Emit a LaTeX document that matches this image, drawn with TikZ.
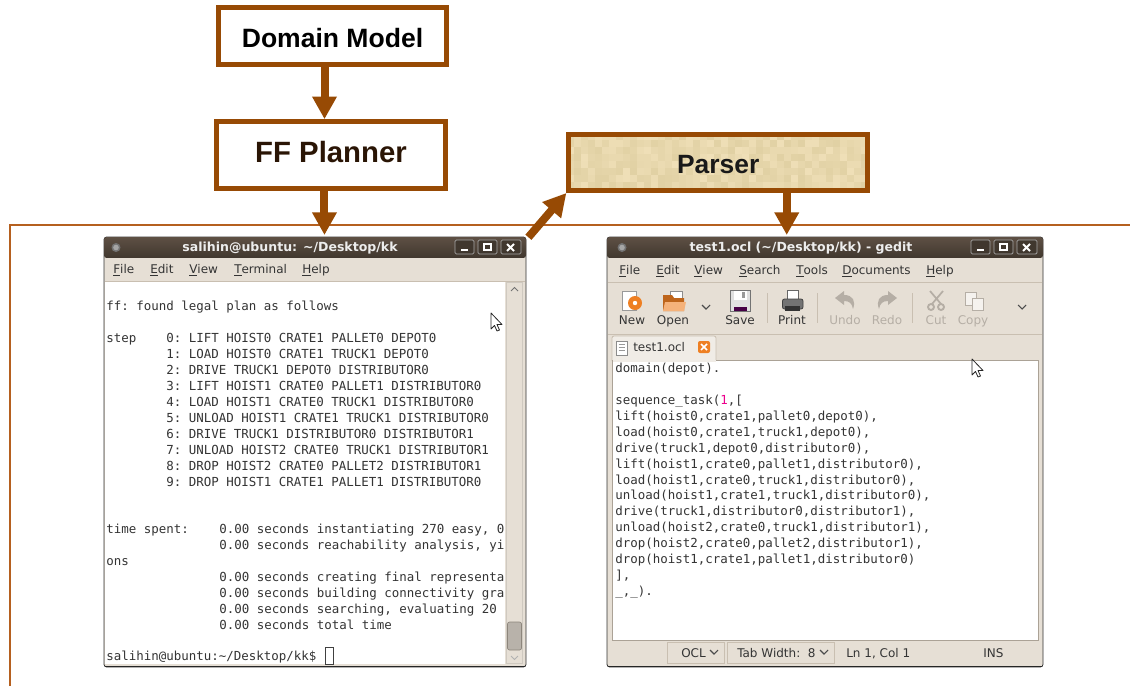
\documentclass[tikz,border=0pt]{standalone}
\usepackage{fontspec}
\setmainfont{Liberation Sans}
\newfontfamily\uifont{DejaVu Sans}
\newfontfamily\monof{DejaVu Sans Mono}
\usetikzlibrary{arrows.meta}
\definecolor{boxbrown}{HTML}{974A04}
\definecolor{framebrown}{HTML}{B5601F}
\definecolor{winface}{HTML}{E6DFD5}
\definecolor{winedge}{HTML}{C9BFB1}
\definecolor{titletop}{HTML}{5E5044}
\definecolor{titlebot}{HTML}{40372E}
\definecolor{txt}{HTML}{343434}
\definecolor{dis}{HTML}{B5AEA5}
\definecolor{orangeicon}{HTML}{EE7F22}
\tikzset{
  flowbox/.style={draw=boxbrown,line width=3.75pt,inner sep=0pt,font=\bfseries},
  flow/.style={draw=boxbrown,line width=6pt,-{Triangle[length=17pt,width=17.5pt]}},
  win/.style={draw=black!80,line width=.6pt,fill=winface,rounded corners=2pt,inner sep=0pt},
  titletxt/.style={text=white!93!black,font=\uifont\bfseries\fontsize{9.4}{11}\selectfont,inner sep=0pt,anchor=base},
  menu/.style={text=txt,font=\uifont\fontsize{9}{11}\selectfont,inner sep=0pt,anchor=base west},
  tool/.style={text=txt,font=\uifont\fontsize{9}{11}\selectfont,inner sep=0pt,anchor=base},
  tooldis/.style={tool,text=dis},
  mono/.style={text=txt,font=\monof\fontsize{9.344}{11}\selectfont\frenchspacing,inner sep=0pt,anchor=base west},
  wbtn/.style={draw=white!65!black,line width=.6pt,rounded corners=1pt,fill=titlebot},
  sep/.style={draw=winedge,line width=.75pt},
  cursorshape/.style={draw=black!85,fill=white,line width=.6pt,line join=round}
}
\newcommand{\ul}[1]{\underline{#1}}
\newcommand{\winbtns}[1]{%
  \draw[wbtn] (#1-21,240) rectangle (#1-2,254);
  \draw[wbtn] (#1+2,240) rectangle (#1+21,254);
  \draw[wbtn] (#1+25,240) rectangle (#1+45,254);
  \draw[white,line width=1.2pt] (#1-15,250) -- (#1-8,250);
  \draw[white,line width=.9pt] (#1+8,244) rectangle (#1+15,250);
  \draw[white,line width=1.4pt] (#1+31,244) -- (#1+38,251) (#1+38,244) -- (#1+31,251);
}
\newcommand{\chev}[3]{\draw[#3,line width=.8pt] (#1-4,#2-2) -- (#1,#2+2) -- (#1+4,#2-2);}
\newcommand{\mousecursor}[2]{\draw[cursorshape,shift={(#1,#2)}] (0,0) -- (0,16) -- (3.5,12.5) -- (6,18) -- (8.5,17) -- (6,11.5) -- (11,11.5) -- cycle;}
\begin{document}
\begin{tikzpicture}[x=0.75pt,y=-0.75pt]
\useasboundingbox (0,0) rectangle (1130,686);
\fill[white] (0,0) rectangle (1130,686);

% frame line
\draw[framebrown,line width=2.1pt] (10,686) -- (10,225) -- (1130,225);

% parser texture
\pgfmathsetseed{11}
\begin{scope}
\clip (567,133) rectangle (869,192);
\foreach \i in {0,...,42}{
  \foreach \j in {0,...,8}{
    \pgfmathsetmacro{\dv}{random(0,14)-7}
    \pgfmathtruncatemacro{\rr}{232+\dv}
    \pgfmathtruncatemacro{\gg}{216+\dv}
    \pgfmathtruncatemacro{\bb}{174+1.4*\dv}
    \fill[fill={rgb,255:red,\rr;green,\gg;blue,\bb}] (567+\i*7,133+\j*7) rectangle (567+\i*7+7.2,133+\j*7+7.2);
  }
}
\end{scope}

% boxes
\node[flowbox,fill=white,minimum width=171pt,minimum height=42.5pt,font=\bfseries\fontsize{19.9}{22}\selectfont,text height=19pt,text depth=1pt] (dm) at (332.5,35.8) {Domain Model};
\node[flowbox,fill=white,minimum width=171.75pt,minimum height=50pt,font=\bfseries\fontsize{22}{24}\selectfont,text={rgb,255:red,42;green,21;blue,5},text height=14.5pt,text depth=3.5pt] (ff) at (331,155) {FF Planner};
\node[flowbox,minimum width=224pt,minimum height=42pt,font=\bfseries\fontsize{19.8}{22}\selectfont,text=black!90,text height=17.5pt,text depth=.5pt] (parser) at (718.2,162.5) {Parser};

% ---------- terminal window
\node[win,minimum width=316.5pt,minimum height=322.5pt] (term) at (315,452) {};
\draw[black!85,line width=1pt] (105,666.5) -- (525,666.5);
\shade[top color=titletop,bottom color=titlebot,rounded corners=2pt] (104,237) rectangle (526,258);
\fill[winface] (105,258) rectangle (525,281);
\draw[winedge,line width=.5pt] (105,281) -- (525,281);
\fill[white] (105,281.5) rectangle (505,664);
\fill[winface!90!black] (506,282) rectangle (523,664);
\fill[winface] (507,283) rectangle (522,663);
\draw[fill=winface!80!black,draw=winedge!70!black,line width=.5pt,rounded corners=1.5pt] (507.5,622) rectangle (521.5,650);
\draw[black!55,line width=.7pt] (511,291) -- (514.5,287.5) -- (518,291);
\draw[black!30,line width=.7pt] (511,656) -- (514.5,659.5) -- (518,656);
\fill[black!55] (116,247.5) circle (4.5);
\fill[black!35] (116,247.5) circle (2.8);
\winbtns{476}
\node[titletxt] (ttitle) at (290,251) {salihin@ubuntu: \textasciitilde/Desktop/kk};
\node[menu] (tm1) at (113,273) {\ul{F}ile};
\node[menu] (tm2) at (150,273) {\ul{E}dit};
\node[menu] (tm3) at (189,273) {\ul{V}iew};
\node[menu] (tm4) at (234,273) {\ul{T}erminal};
\node[menu] (tm5) at (302,273) {\ul{H}elp};

\node[mono] (t01) at (106,310) {ff: found legal plan as follows};
\node[mono] (t02) at (106,342) {step};
\node[mono] (t03) at (166,342) {0: LIFT HOIST0 CRATE1 PALLET0 DEPOT0};
\node[mono] (t04) at (166,358) {1: LOAD HOIST0 CRATE1 TRUCK1 DEPOT0};
\node[mono] (t05) at (166,374) {2: DRIVE TRUCK1 DEPOT0 DISTRIBUTOR0};
\node[mono] (t06) at (166,390) {3: LIFT HOIST1 CRATE0 PALLET1 DISTRIBUTOR0};
\node[mono] (t07) at (166,406) {4: LOAD HOIST1 CRATE0 TRUCK1 DISTRIBUTOR0};
\node[mono] (t08) at (166,422) {5: UNLOAD HOIST1 CRATE1 TRUCK1 DISTRIBUTOR0};
\node[mono] (t09) at (166,438) {6: DRIVE TRUCK1 DISTRIBUTOR0 DISTRIBUTOR1};
\node[mono] (t10) at (166,454) {7: UNLOAD HOIST2 CRATE0 TRUCK1 DISTRIBUTOR1};
\node[mono] (t11) at (166,470) {8: DROP HOIST2 CRATE0 PALLET2 DISTRIBUTOR1};
\node[mono] (t12) at (166,486) {9: DROP HOIST1 CRATE1 PALLET1 DISTRIBUTOR0};
\node[mono] (t13) at (106,533) {time spent:};
\node[mono] (t14) at (219,533) {0.00 seconds instantiating 270 easy, 0};
\node[mono] (t15) at (219,549) {0.00 seconds reachability analysis, yi};
\node[mono] (t16) at (106,565) {ons};
\node[mono] (t17) at (219,581) {0.00 seconds creating final representa};
\node[mono] (t18) at (219,597) {0.00 seconds building connectivity gra};
\node[mono] (t19) at (219,613) {0.00 seconds searching, evaluating 20};
\node[mono] (t20) at (219,629) {0.00 seconds total time};
\node[mono] (t21) at (106,660) {salihin@ubuntu:\textasciitilde/Desktop/kk\$};
\draw[black!75,line width=.7pt] (325,647.5) rectangle (333,664);
\mousecursor{491}{313}

% ---------- gedit window
\node[win,minimum width=327pt,minimum height=322.5pt] (gedit) at (825,452) {};
\draw[black!85,line width=1pt] (608,666.5) -- (1042,666.5);
\shade[top color=titletop,bottom color=titlebot,rounded corners=2pt] (607,237) rectangle (1043,258);
\fill[winface] (608,258) rectangle (1042,665);
\draw[winedge,line width=.5pt] (608,282) -- (1042,282);
\draw[winedge,line width=.5pt] (608,334.5) -- (1042,334.5);
\fill[black!55] (622,247.5) circle (4.5);
\fill[black!35] (622,247.5) circle (2.8);
\winbtns{992}
\node[titletxt] (gtitle) at (801,251) {test1.ocl (\textasciitilde/Desktop/kk) - gedit};
\node[menu] (gm1) at (619,274) {\ul{F}ile};
\node[menu] (gm2) at (656,274) {\ul{E}dit};
\node[menu] (gm3) at (694,274) {\ul{V}iew};
\node[menu] (gm4) at (739,274) {\ul{S}earch};
\node[menu] (gm5) at (796,274) {\ul{T}ools};
\node[menu] (gm6) at (842,274) {\ul{D}ocuments};
\node[menu] (gm7) at (926,274) {\ul{H}elp};

% toolbar icons
\draw[black!40,fill=white,line width=.5pt] (622,291) rectangle (636,310);
\fill[orangeicon] (635,303) circle (7);
\fill[white] (635,303) circle (2.2);
\draw[black!45,fill=white,line width=.5pt] (670,291) rectangle (682,303);
\fill[orangeicon!80!black] (663,295) -- (672,295) -- (674,298) -- (684,298) -- (684,311) -- (663,311) -- cycle;
\fill[orangeicon!60!white] (665,302) -- (686,302) -- (684,311) -- (663,311) -- cycle;
\draw[black!55,fill=black!12,line width=.6pt] (730.5,290.5) rectangle (750.5,311);
\fill[white] (734,291) rectangle (747,300);
\fill[black!40] (742,292) rectangle (745,298);
\fill[violet!55!black] (734,307) rectangle (747,310.5);
\draw[black!60,fill=white,line width=.5pt] (787,290) rectangle (798,300);
\draw[black!75,fill=black!55,line width=.6pt,rounded corners=1.5pt] (782.5,299) rectangle (803,309);
\fill[black!80] (785,306) rectangle (800,311);
\fill[dis] (835,298) -- (844,291) -- (844,295) .. controls (853,295) and (856,301) .. (853,309) .. controls (852,303) and (849,301) .. (844,301) -- (844,305) -- cycle;
\fill[dis] (897,298) -- (888,291) -- (888,295) .. controls (879,295) and (876,301) .. (879,309) .. controls (880,303) and (883,301) .. (888,301) -- (888,305) -- cycle;
\draw[dis,line width=1.3pt] (930,291) -- (941,304) (943,291) -- (932,304);
\draw[dis,line width=1.4pt] (931,307) circle (3) (941,307) circle (3);
\draw[dis,fill=winface!40!white,line width=.6pt] (965,292) rectangle (976,305);
\draw[dis,fill=winface!40!white,line width=.6pt] (972,298) rectangle (983,310);
\chev{706}{307}{black!70}
\chev{1022}{307}{black!70}
\draw[sep] (767,293) -- (767,323);
\draw[sep] (817,293) -- (817,323);
\draw[sep] (912.5,293) -- (912.5,323);
\node[tool] (b1) at (632,324) {New};
\node[tool] (b2) at (673,324) {Open};
\node[tool] (b3) at (740,324) {Save};
\node[tool] (b4) at (792,324) {Print};
\node[tooldis] (b5) at (845,324) {Undo};
\node[tooldis] (b6) at (887,324) {Redo};
\node[tooldis] (b7) at (936,324) {Cut};
\node[tooldis] (b8) at (973,324) {Copy};

% tab
\draw[winedge,fill=winface!60!white,line width=.6pt,rounded corners=1.5pt] (612,361) -- (612,336) -- (716,336) -- (716,361);
\draw[black!45,fill=white,line width=.5pt] (616.5,341) rectangle (627,355);
\draw[black!40,line width=.5pt] (618.5,344.5) -- (625,344.5) (618.5,347.5) -- (625,347.5) (618.5,350.5) -- (625,350.5);
\node[menu] (tab) at (633,351) {test1.ocl};
\fill[orangeicon,rounded corners=1.5pt] (698,341) rectangle (710,353);
\draw[white,line width=1.2pt] (701,344) -- (707,350) (707,344) -- (701,350);

% text area
\draw[winedge!85!black,fill=white,line width=.75pt] (612.5,360.5) rectangle (1038.5,640.5);
\fill[winface!60!white] (613,360) rectangle (715.5,361.5);
\node[mono] (g01) at (615,372) {domain(depot).};
\node[mono] (g02) at (615,404) {sequence\_task(\textcolor{magenta}{1},[};
\node[mono] (g03) at (615,420) {lift(hoist0,crate1,pallet0,depot0),};
\node[mono] (g04) at (615,436) {load(hoist0,crate1,truck1,depot0),};
\node[mono] (g05) at (615,452) {drive(truck1,depot0,distributor0),};
\node[mono] (g06) at (615,468) {lift(hoist1,crate0,pallet1,distributor0),};
\node[mono] (g07) at (615,484) {load(hoist1,crate0,truck1,distributor0),};
\node[mono] (g08) at (615,499.5) {unload(hoist1,crate1,truck1,distributor0),};
\node[mono] (g09) at (615,515.5) {drive(truck1,distributor0,distributor1),};
\node[mono] (g10) at (615,531.5) {unload(hoist2,crate0,truck1,distributor1),};
\node[mono] (g11) at (615,547.5) {drop(hoist2,crate0,pallet2,distributor1),};
\node[mono] (g12) at (615,563.5) {drop(hoist1,crate1,pallet1,distributor0)};
\node[mono] (g13) at (615,579.5) {],};
\node[mono] (g14) at (615,595.5) {\_,\_).};
\mousecursor{972}{359}

% status bar
\draw[winedge,line width=.6pt] (667.5,642) rectangle (724,663);
\draw[winedge,line width=.6pt] (727,642) rectangle (834,663);
\node[menu] (s1) at (681,657) {OCL};
\chev{714}{652}{black!70}
\node[menu] (s2) at (737,657) {Tab Width:\ \ 8};
\chev{824}{652}{black!70}
\node[menu] (s3) at (846,657) {Ln 1, Col 1};
\node[menu] (s4) at (983,657) {INS};

% connectors
\draw[flow] ([xshift=-6pt]dm.south) -- ([xshift=-6pt]dm.south |- ff.north);
\draw[flow,shorten >=1.2pt] ([xshift=-4.9pt]ff.south) -- ([xshift=-4.9pt]ff.south |- term.north);
\draw[flow,shorten >=1.2pt] ([xshift=51.4pt]parser.south) -- ([xshift=51.4pt]parser.south |- gedit.north);
\draw[flow] ([xshift=1.5pt,yshift=-.5pt]term.north east) -- (parser.south west);
\end{tikzpicture}
\end{document}
